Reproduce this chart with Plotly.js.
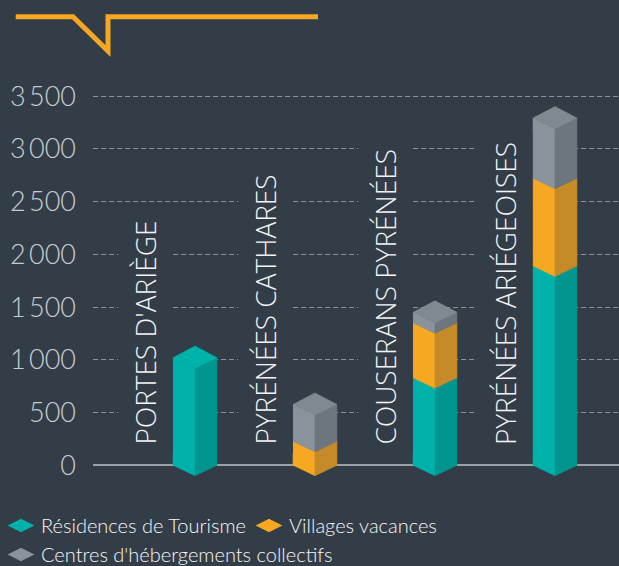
<!DOCTYPE html>
<html><head><meta charset="utf-8">
<script src="https://cdn.plot.ly/plotly-3.0.1.min.js"></script>
<style>html,body{margin:0;padding:0;background:#333d47;}</style>
</head><body><div id="chart" style="width:619px;height:566px;"></div>
<script>
// ---- data ----
const categories = ["PORTES D'ARIÈGE", "PYRÉNÉES CATHARES", "COUSERANS PYRÉNÉES", "PYRÉNÉES ARIÉGEOISES"];
const seriesNames = ["Résidences de Tourisme", "Villages vacances", "Centres d'hébergements collectifs"];
const residences = [1020, 0, 829, 1890];
const villages = [0, 228, 522, 833];
const centres = [0, 348, 99, 570];
const tickValues = [0, 500, 1000, 1500, 2000, 2500, 3000, 3500];
const tickLabels = ["0", "500", "1\u2009000", "1\u2009500", "2\u2009000", "2\u2009500", "3\u2009000", "3\u2009500"];

// ---- styles ----
const BG = '#333d47';
const faceColors = [
  {left: '#00b2a9', right: '#00958e', top: '#00b3aa', legend: '#00b2a9'},
  {left: '#f6a823', right: '#c58b28', top: '#e39d26', legend: '#f6a823'},
  {left: '#8a939b', right: '#6d767e', top: '#80898f', legend: '#8a939b'}
];
const HALF_W = 0.183;   // half bar width (x units)
const D_DOWN = 100;     // isometric offset (y units)
const D_UP = 110;
const LABEL_DX = 0.417;
const LABEL_Y = 110;

const series = [residences, villages, centres];
const traces = [];
const cum = categories.map(() => 0);
const topColor = categories.map(() => null);

series.forEach((vals, k) => {
  const L = {x: [], y: []}, R = {x: [], y: []};
  vals.forEach((v, i) => {
    if (!(v > 0)) return;
    const y0 = cum[i], y1 = cum[i] + v, c = i;
    L.x.push(c - HALF_W, c - HALF_W, c, c, c - HALF_W, null);
    L.y.push(y0, y1, y1 - D_DOWN, y0 - D_DOWN, y0, null);
    R.x.push(c, c, c + HALF_W, c + HALF_W, c, null);
    R.y.push(y0 - D_DOWN, y1 - D_DOWN, y1, y0, y0 - D_DOWN, null);
    cum[i] = y1;
    topColor[i] = faceColors[k].top;
  });
  [[L, faceColors[k].left], [R, faceColors[k].right]].forEach(([p, col]) => {
    traces.push({type: 'scatter', mode: 'lines', x: p.x, y: p.y, fill: 'toself',
      fillcolor: col, line: {color: col, width: 0.6}, hoverinfo: 'skip', showlegend: false});
  });
});

// top faces
categories.forEach((cat, i) => {
  const T = cum[i];
  traces.push({type: 'scatter', mode: 'lines',
    x: [i - HALF_W, i, i + HALF_W, i, i - HALF_W],
    y: [T, T + D_UP, T, T - D_DOWN, T],
    fill: 'toself', fillcolor: topColor[i], line: {color: topColor[i], width: 0.6},
    hoverinfo: 'skip', showlegend: false});
});

// legend entries
seriesNames.forEach((name, k) => {
  traces.push({type: 'scatter', mode: 'markers', x: [null], y: [null], name: name,
    marker: {symbol: 'diamond-wide', size: 16, color: faceColors[k].legend,
      line: {color: faceColors[k].legend, width: 2}}, hoverinfo: 'skip'});
});

const annotations = categories.map((cat, i) => ({
  x: i - LABEL_DX, y: LABEL_Y, xref: 'x', yref: 'y', text: cat, textangle: -90,
  showarrow: false, xanchor: 'center', yanchor: 'bottom',
  font: {family: 'Open Sans, Liberation Sans Narrow, sans-serif', weight: 300, stretch: 'condensed', size: 28, color: '#f3f3f3'},
  bgcolor: BG, borderpad: 8
}));

// decorative top line (pixel -> paper)
const ML = 93, MT = 91, MB = 85, W = 619, H = 566;
const PW = W - ML, PH = H - MT - MB;
const px = x => (x - ML) / PW, py = y => (H - MB - y) / PH;
const deco = [[15.7, 16.7], [73, 16.7], [108, 51], [108, 16.7], [318, 16.7]];
const path = deco.map((p, j) => (j ? 'L' : 'M') + px(p[0]) + ',' + py(p[1])).join(' ');

const layout = {
  width: W, height: H,
  paper_bgcolor: BG, plot_bgcolor: BG,
  margin: {l: ML, r: 0, t: MT, b: MB, autoexpand: false},
  xaxis: {range: [-0.85, 3.5333], showgrid: false, zeroline: false, showticklabels: false, fixedrange: true},
  yaxis: {range: [-150, 3550], tickvals: tickValues, ticktext: tickLabels,
    showgrid: true, gridcolor: '#8a9199', gridwidth: 1, griddash: '5px,3px',
    zeroline: true, zerolinecolor: '#9aa1a8', zerolinewidth: 2,
    ticks: '', ticklabelstandoff: 16,
    tickfont: {family: 'Lato, sans-serif', weight: 300, size: 27, color: '#c6ccd2'}, fixedrange: true},
  showlegend: true,
  legend: {orientation: 'h', xref: 'paper', yref: 'paper', x: px(1), y: py(506),
    xanchor: 'left', yanchor: 'top', bgcolor: 'rgba(0,0,0,0)',
    entrywidth: 203, entrywidthmode: 'pixels',
    font: {family: 'Lato, sans-serif', weight: 300, size: 20, color: '#f6f6f6'}, traceorder: 'normal'},
  annotations: annotations,
  shapes: [{type: 'path', xref: 'paper', yref: 'paper', path: path,
    line: {color: '#f5a623', width: 5}, fillcolor: 'rgba(0,0,0,0)'}]
};

Plotly.newPlot('chart', traces, layout, {displayModeBar: false, staticPlot: true});
</script></body></html>
